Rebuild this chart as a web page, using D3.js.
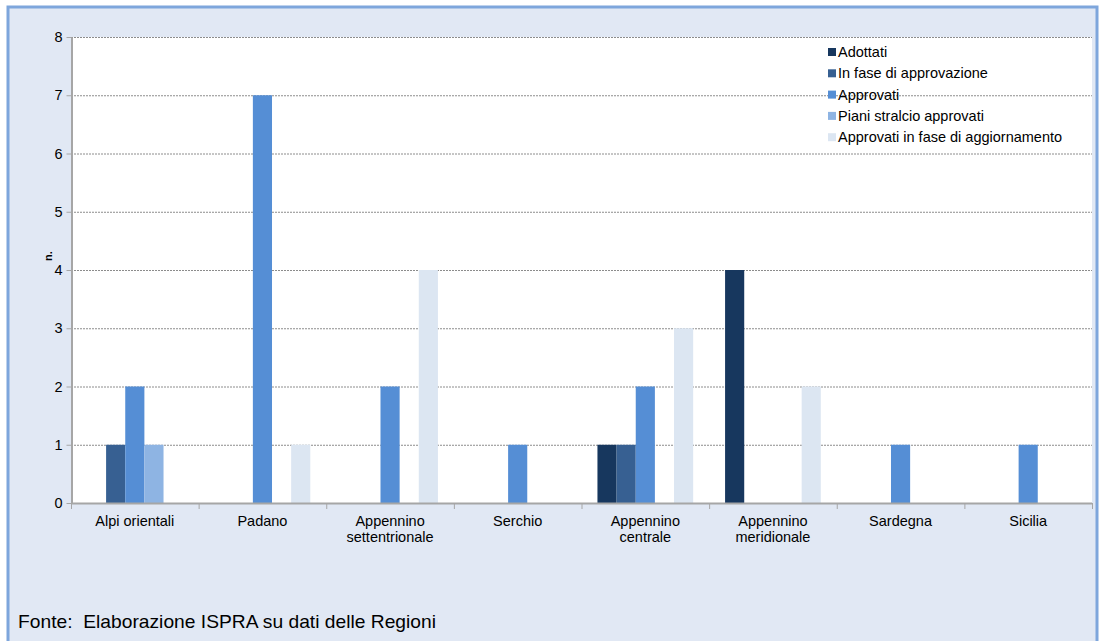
<!DOCTYPE html>
<html>
<head>
<meta charset="utf-8">
<script src="https://cdn.jsdelivr.net/npm/d3@7"></script>
<style>
  body { margin: 0; background: #ffffff; }
  svg text { font-family: "Liberation Sans", Arial, sans-serif; fill: #000; }
</style>
</head>
<body>
<script>
// categories and series
var categories = ["Alpi orientali", "Padano", "Appennino settentrionale", "Serchio",
                  "Appennino centrale", "Appennino meridionale", "Sardegna", "Sicilia"];
var seriesNames = ["Adottati", "In fase di approvazione", "Approvati",
                   "Piani stralcio approvati", "Approvati in fase di aggiornamento"];
var adottati      = [0, 0, 0, 0, 1, 4, 0, 0];
var inFase        = [1, 0, 0, 0, 1, 0, 0, 0];
var approvati     = [2, 7, 2, 1, 2, 0, 1, 1];
var stralcio      = [1, 0, 0, 0, 0, 0, 0, 0];
var aggiornamento = [0, 1, 4, 0, 3, 2, 0, 0];
var yTicks = [0, 1, 2, 3, 4, 5, 6, 7, 8];
var colors = ["#17375e", "#376092", "#558ed5", "#8eb4e3", "#dce6f2"];

var seriesValues = [adottati, inFase, approvati, stralcio, aggiornamento];

var W = 1099, H = 641;
var plotL = 71, plotR = 1092, plotT = 37, plotB = 503;

var svg = d3.select("body").append("svg")
  .attr("width", W)
  .attr("height", H);

// frame background + border
svg.append("rect")
  .attr("x", 8).attr("y", 7).attr("width", 1089).attr("height", 640)
  .attr("fill", "#e1e8f4")
  .attr("stroke", "#7ea6dc")
  .attr("stroke-width", 3);

// plot area
svg.append("rect")
  .attr("x", plotL).attr("y", plotT)
  .attr("width", plotR - plotL).attr("height", plotB - plotT)
  .attr("fill", "#ffffff");

var x0 = d3.scaleBand()
  .domain(categories)
  .range([plotL, plotR])
  .paddingInner(0.25)
  .paddingOuter(0.125);

var x1 = d3.scaleBand()
  .domain(seriesNames)
  .range([0, x0.bandwidth()]);

var y = d3.scaleLinear()
  .domain([0, 8])
  .range([plotB, plotT]);

// dotted gridlines
svg.append("g")
  .selectAll("line")
  .data(yTicks.filter(function (d) { return d > 0; }))
  .enter().append("line")
    .attr("x1", plotL).attr("x2", plotR)
    .attr("y1", function (d) { return y(d) + 0.5; })
    .attr("y2", function (d) { return y(d) + 0.5; })
    .attr("stroke", "#8c8c8c")
    .attr("stroke-width", 1)
    .attr("stroke-dasharray", "2,1");

// bars
var rows = categories.map(function (c, i) {
  return { cat: c, vals: seriesNames.map(function (s, j) { return { s: s, v: seriesValues[j][i], c: colors[j] }; }) };
});

svg.append("g")
  .selectAll("g")
  .data(rows)
  .enter().append("g")
    .attr("transform", function (d) { return "translate(" + x0(d.cat) + ",0)"; })
  .selectAll("rect")
  .data(function (d) { return d.vals.filter(function (v) { return v.v > 0; }); })
  .enter().append("rect")
    .attr("x", function (d) { return x1(d.s); })
    .attr("y", function (d) { return y(d.v); })
    .attr("width", x1.bandwidth())
    .attr("height", function (d) { return y(0) - y(d.v); })
    .attr("fill", function (d) { return d.c; });

// y axis
var yAxis = svg.append("g")
  .attr("transform", "translate(" + (plotL + 0.5) + ",0)")
  .call(d3.axisLeft(y).tickValues(yTicks).tickSize(5).tickSizeOuter(0));
yAxis.select(".domain").attr("stroke", "#a6a6a6").attr("stroke-width", 2);
yAxis.selectAll(".tick line").attr("stroke", "#a6a6a6");
yAxis.selectAll(".tick text")
  .attr("x", -9)
  .style("font-size", "14.5px")
  .style("font-family", "Liberation Sans, Arial, sans-serif");

// x axis
var bounds = d3.range(categories.length + 1).map(function (i) { return plotL + i * x0.step(); });
svg.append("line")
  .attr("x1", plotL).attr("x2", plotR)
  .attr("y1", plotB + 0.5).attr("y2", plotB + 0.5)
  .attr("stroke", "#a6a6a6").attr("stroke-width", 2);
svg.append("g")
  .selectAll("line")
  .data(bounds)
  .enter().append("line")
    .attr("x1", function (d) { return d + 0.5; })
    .attr("x2", function (d) { return d + 0.5; })
    .attr("y1", plotB).attr("y2", plotB + 6)
    .attr("stroke", "#a6a6a6");

// category labels, split on space for two-word names
var labels = svg.append("g")
  .selectAll("text")
  .data(categories)
  .enter().append("text")
    .attr("text-anchor", "middle")
    .attr("y", 526)
    .style("font-size", "14.5px");
labels.each(function (d) {
  var t = d3.select(this);
  var cx = x0(d) + x0.bandwidth() / 2;
  var parts = d.indexOf("Appennino") === 0 ? d.split(" ") : [d];
  parts.forEach(function (p, i) {
    t.append("tspan").attr("x", cx).attr("dy", i === 0 ? 0 : 16).text(p);
  });
});

// axis title
svg.append("text")
  .attr("transform", "translate(52,256) rotate(-90)")
  .attr("text-anchor", "middle")
  .style("font-size", "11px")
  .style("font-weight", "bold")
  .text("n.");

// legend
var legend = svg.append("g")
  .selectAll("g")
  .data(seriesNames)
  .enter().append("g")
    .attr("transform", function (d, i) { return "translate(828," + (52 + i * 21.3) + ")"; });
legend.append("rect")
  .attr("x", 0).attr("y", -4)
  .attr("width", 8).attr("height", 8)
  .attr("fill", function (d, i) { return colors[i]; });
legend.append("text")
  .attr("x", 10).attr("y", 5)
  .style("font-size", "14.5px")
  .text(function (d) { return d; });

// source
svg.append("text")
  .attr("x", 18).attr("y", 628)
  .attr("textLength", 418)
  .attr("lengthAdjust", "spacingAndGlyphs")
  .style("font-size", "19px")
  .style("white-space", "pre")
  .text("Fonte:  Elaborazione ISPRA su dati delle Regioni");
</script>
</body>
</html>
